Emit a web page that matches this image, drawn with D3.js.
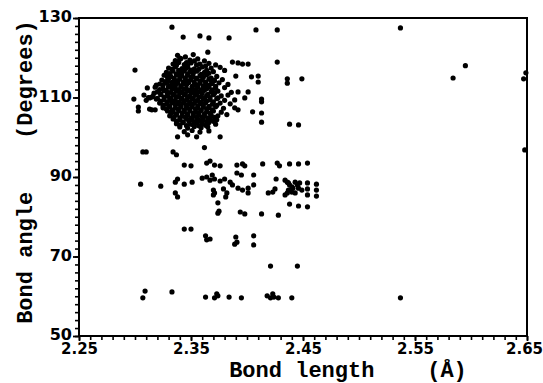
<!DOCTYPE html>
<html>
<head>
<meta charset="utf-8">
<script src="https://cdn.jsdelivr.net/npm/d3@7"></script>
<style>
  html, body { margin: 0; padding: 0; background: #fff; }
  svg { display: block; }
</style>
</head>
<body>
<svg id="chart" width="543" height="383"></svg>
<script>
// ---------------- DATA (bond length in Å, bond angle in degrees) ----------------
const xTicks = [2.25, 2.35, 2.45, 2.55, 2.65];
const xTickLabels = ["2.25", "2.35", "2.45", "2.55", "2.65"];
const yTicks = [50, 70, 90, 110, 130];
const yTickLabels = ["50", "70", "90", "110", "130"];
const xTitle = "Bond length    (\u00C5)";
const yTitle = "Bond angle    (Degrees)";

// dense tetrahedral-angle cluster
const mainCluster = [
  [2.338,120.6],[2.345,120.2],[2.352,120.8],
  [2.336,119.3],[2.341,119.8],[2.349,119.4],[2.356,119.7],[2.362,119.2],
  [2.334,118.4],[2.339,118.8],[2.344,118.3],[2.350,118.7],[2.358,118.4],[2.366,118.6],[2.372,118.2],
  [2.330,117.4],[2.336,117.7],[2.342,117.3],[2.347,117.6],[2.353,117.2],[2.360,117.7],[2.368,117.4],[2.376,117.6],
  [2.328,116.3],[2.334,116.6],[2.339,116.2],[2.344,116.7],[2.349,116.4],[2.355,116.6],[2.362,116.3],[2.370,116.5],[2.380,116.8],
  [2.326,115.6],[2.332,115.3],[2.337,115.7],[2.342,115.4],[2.347,115.6],[2.352,115.2],[2.358,115.5],[2.364,115.7],[2.373,115.3],
  [2.324,114.4],[2.330,114.7],[2.335,114.3],[2.340,114.6],[2.345,114.2],[2.350,114.5],[2.355,114.8],[2.360,114.4],[2.366,114.6],[2.371,114.3],[2.378,114.5],
  [2.322,113.4],[2.327,113.7],[2.333,113.3],[2.338,113.6],[2.343,113.4],[2.348,113.8],[2.353,113.3],[2.358,113.6],[2.363,113.2],[2.369,113.5],[2.375,113.7],[2.383,113.3],
  [2.318,112.6],[2.325,112.3],[2.330,112.7],[2.336,112.4],[2.341,112.6],[2.346,112.2],[2.351,112.5],[2.356,112.7],[2.361,112.4],[2.366,112.6],[2.372,112.3],[2.380,112.5],
  [2.320,111.4],[2.326,111.7],[2.332,111.3],[2.337,111.6],[2.342,111.4],[2.347,111.7],[2.352,111.3],[2.357,111.5],[2.362,111.8],[2.368,111.4],[2.374,111.6],[2.386,111.3],
  [2.308,110.6],[2.316,110.3],[2.323,110.7],[2.329,110.4],[2.334,110.6],[2.339,110.3],[2.344,110.7],[2.349,110.4],[2.354,110.6],[2.359,110.2],[2.364,110.5],[2.370,110.7],[2.377,110.4],[2.383,110.6],
  [2.310,109.3],[2.319,109.6],[2.326,109.4],[2.331,109.7],[2.336,109.3],[2.341,109.6],[2.346,109.4],[2.351,109.7],[2.356,109.3],[2.361,109.6],[2.367,109.4],[2.373,109.7],[2.380,109.3],
  [2.322,108.6],[2.328,108.3],[2.333,108.7],[2.338,108.4],[2.343,108.6],[2.348,108.3],[2.353,108.6],[2.358,108.4],[2.363,108.7],[2.369,108.3],[2.376,108.6],[2.385,108.4],
  [2.325,107.4],[2.331,107.7],[2.336,107.3],[2.341,107.6],[2.346,107.4],[2.351,107.7],[2.356,107.3],[2.361,107.6],[2.366,107.4],[2.372,107.7],[2.379,107.3],
  [2.329,106.6],[2.334,106.3],[2.339,106.7],[2.344,106.4],[2.349,106.6],[2.354,106.3],[2.359,106.7],[2.364,106.4],[2.370,106.6],[2.377,106.3],
  [2.331,105.4],[2.337,105.7],[2.342,105.3],[2.347,105.6],[2.352,105.4],[2.357,105.7],[2.362,105.3],[2.368,105.6],[2.374,105.4],[2.382,105.7],
  [2.334,104.6],[2.340,104.3],[2.346,104.7],[2.351,104.4],[2.356,104.6],[2.361,104.3],[2.367,104.6],[2.373,104.4],
  [2.337,103.4],[2.343,103.7],[2.349,103.3],[2.355,103.6],[2.360,103.4],[2.366,103.7],[2.372,103.3],
  [2.340,102.6],[2.347,102.3],[2.353,102.7],[2.359,102.4],[2.365,102.6],
  [2.344,101.4],[2.351,101.7],[2.358,101.3],[2.366,101.6]
];

// overlapping points filling the core of the cluster
const clusterCore = [
  [2.339,119.1],[2.346,118.8],[2.353,119.2],
  [2.337,118.1],[2.347,117.9],[2.355,118.2],[2.363,117.9],
  [2.333,117.1],[2.339,116.8],[2.345,117.2],[2.350,116.9],[2.357,117.1],[2.364,116.8],
  [2.331,116.0],[2.337,115.8],[2.342,116.2],[2.347,115.9],[2.352,116.1],[2.359,115.8],[2.366,116.1],
  [2.329,115.1],[2.335,114.8],[2.340,115.2],[2.345,114.9],[2.350,115.1],[2.355,114.8],[2.361,115.1],[2.368,114.9],
  [2.327,114.0],[2.333,113.8],[2.338,114.2],[2.343,113.9],[2.348,114.1],[2.353,113.8],[2.358,114.1],[2.363,113.9],[2.368,114.2],
  [2.325,113.1],[2.330,112.8],[2.336,113.1],[2.341,112.9],[2.346,113.2],[2.351,112.8],[2.356,113.1],[2.361,112.9],[2.366,113.1],[2.372,112.8],
  [2.322,112.0],[2.328,111.8],[2.333,112.1],[2.339,111.9],[2.344,112.1],[2.349,111.8],[2.354,112.0],[2.359,111.9],[2.364,112.2],[2.369,111.9],
  [2.317,111.1],[2.323,110.9],[2.329,111.1],[2.335,110.8],[2.340,111.1],[2.345,110.9],[2.350,111.2],[2.355,110.9],[2.360,111.0],[2.365,110.8],[2.371,111.1],
  [2.312,110.0],[2.320,109.8],[2.326,110.1],[2.332,109.9],[2.337,110.1],[2.342,109.8],[2.347,110.0],[2.352,109.9],[2.357,110.1],[2.362,109.8],[2.367,110.0],[2.374,109.9],
  [2.323,109.1],[2.329,108.9],[2.334,109.1],[2.339,108.8],[2.344,109.0],[2.349,108.9],[2.354,109.1],[2.359,108.8],[2.364,109.1],[2.370,108.9],
  [2.325,108.0],[2.331,107.9],[2.336,108.1],[2.341,107.8],[2.346,108.0],[2.351,108.1],[2.356,107.9],[2.361,108.1],[2.366,107.8],[2.373,108.0],
  [2.328,107.1],[2.333,106.9],[2.339,107.1],[2.344,106.8],[2.349,107.0],[2.354,107.1],[2.359,106.9],[2.364,107.1],[2.369,106.9],
  [2.332,106.0],[2.337,105.9],[2.342,106.1],[2.347,105.8],[2.352,106.0],[2.357,106.1],[2.362,105.9],[2.367,106.0],
  [2.335,105.1],[2.340,104.9],[2.345,105.1],[2.350,104.8],[2.355,105.0],[2.360,105.1],[2.365,104.9],[2.371,105.0],
  [2.337,104.0],[2.343,103.9],[2.348,104.1],[2.353,103.9],[2.358,104.1],[2.364,103.9],[2.370,104.0],
  [2.340,103.0],[2.346,102.9],[2.352,103.1],[2.357,102.9],[2.363,103.0]
];

// scattered points around the main cluster
const clusterFringe = [
  [2.333,127.7],[2.343,125.2],[2.358,125.5],[2.366,125.0],[2.384,125.0],[2.408,127.0],[2.427,127.0],
  [2.365,121.4],[2.340,119.9],[2.387,118.9],[2.392,118.7],[2.396,118.4],[2.401,118.4],[2.427,118.9],
  [2.390,115.4],[2.404,115.2],[2.410,115.4],[2.410,113.9],[2.436,114.7],[2.436,113.6],[2.449,114.7],
  [2.392,111.4],[2.401,111.4],[2.413,109.6],[2.413,108.9],[2.389,109.4],[2.398,109.9],
  [2.405,106.4],[2.413,106.1],[2.413,103.8],[2.438,103.3],[2.446,103.1],[2.389,107.4],[2.392,106.9],
  [2.300,116.9],[2.299,109.6],[2.303,107.6],[2.303,106.6],[2.311,112.4],[2.315,110.1],[2.319,113.1],
  [2.329,113.9],[2.313,109.9],[2.313,107.1],[2.315,106.9],[2.318,106.9],
  [2.338,100.1],[2.347,100.6],[2.355,100.1],[2.376,100.1],[2.362,97.4],
  [2.307,96.3],[2.310,96.3],[2.334,96.3],[2.337,95.6]
];

// points near 90 degrees
const rightAngleBand = [
  [2.344,93.0],[2.350,92.8],[2.364,93.5],[2.367,94.0],[2.371,93.0],[2.376,92.8],[2.391,93.0],[2.396,93.3],
  [2.398,92.8],[2.414,93.3],[2.427,93.5],[2.429,92.8],[2.438,93.3],[2.446,93.3],[2.454,93.5],
  [2.305,88.2],[2.323,87.7],[2.336,88.7],[2.338,89.5],[2.344,88.2],[2.351,88.7],[2.360,89.7],[2.364,90.0],
  [2.369,90.5],[2.367,89.2],[2.371,89.5],[2.376,89.0],[2.380,89.5],[2.385,88.7],[2.391,91.0],[2.395,90.5],
  [2.387,88.0],[2.392,87.2],[2.396,86.7],[2.406,90.5],[2.406,88.0],[2.426,89.5],[2.419,86.0],[2.423,86.2],
  [2.425,87.0],[2.370,86.7],[2.371,86.0],[2.370,85.5],[2.379,87.0],[2.382,86.0],[2.381,85.0],[2.401,87.2],
  [2.401,86.0],[2.336,86.0],[2.338,85.0],[2.374,83.5],[2.375,81.4],[2.374,80.9],[2.394,81.2],[2.398,80.7],
  [2.413,80.7],[2.428,80.4],
  [2.434,89.2],[2.436,88.7],[2.437,88.5],[2.438,88.0],[2.440,87.5],[2.441,87.2],[2.437,86.7],[2.436,86.0],
  [2.434,85.5],[2.443,88.7],[2.445,88.0],[2.446,87.2],[2.447,88.5],[2.449,86.7],[2.454,88.5],[2.454,87.0],
  [2.454,85.5],[2.462,88.2],[2.462,86.7],[2.462,85.2],[2.438,83.2],[2.446,82.7],[2.454,82.5],[2.440,86.2],
  [2.443,86.0]
];

// lower angles
const lowAngles = [
  [2.344,76.9],[2.350,76.9],[2.363,75.2],[2.364,74.2],[2.367,74.4],[2.390,74.9],[2.391,73.6],[2.389,73.1],
  [2.406,75.2],[2.406,72.9],[2.421,67.6],[2.445,67.6],
  [2.309,61.3],[2.307,59.6],[2.333,61.1],[2.363,59.8],[2.371,59.6],[2.373,60.6],[2.374,60.1],[2.384,59.8],
  [2.395,59.6],[2.418,60.1],[2.421,59.6],[2.423,60.6],[2.424,59.8],[2.428,59.6],[2.440,59.6],[2.537,59.6]
];

// long-bond outliers
const longBonds = [
  [2.537,127.5],[2.595,118.0],[2.584,114.9],[2.649,116.2],[2.647,114.7],[2.648,96.8]
];

// ---------------- DRAWING ----------------
const svg = d3.select("#chart");
const margin = { left: 79, right: 16, top: 18, bottom: 47 };
const W = 543, H = 383;

const x = d3.scaleLinear().domain([2.25, 2.65]).range([margin.left, W - margin.right]);
const y = d3.scaleLinear().domain([50, 130]).range([H - margin.bottom, margin.top]);

const tickFont = "'DejaVu Sans', sans-serif";
const titleFont = "'Liberation Mono', 'Courier New', monospace";

// minor ticks
const xMinor = d3.range(225, 266).map(d => d / 100);
const yMinor = d3.range(50, 131, 2);

svg.append("g")
  .attr("transform", `translate(0,${y(50)})`)
  .call(d3.axisBottom(x).tickValues(xMinor).tickSize(4).tickFormat(""))
  .call(g => g.select(".domain").remove())
  .call(g => g.selectAll("line").attr("stroke", "#000").attr("stroke-width", 1.6));

svg.append("g")
  .attr("transform", `translate(${x(2.25)},0)`)
  .call(d3.axisLeft(y).tickValues(yMinor).tickSize(4).tickFormat(""))
  .call(g => g.select(".domain").remove())
  .call(g => g.selectAll("line").attr("stroke", "#000").attr("stroke-width", 1.6));

// major ticks + labels
svg.append("g")
  .attr("transform", `translate(0,${y(50)})`)
  .call(d3.axisBottom(x).tickValues(xTicks).tickSize(5).tickPadding(2)
        .tickFormat((d, i) => xTickLabels[i]))
  .call(g => g.select(".domain").remove())
  .call(g => g.selectAll("line").attr("stroke", "#000").attr("stroke-width", 1.8))
  .call(g => g.selectAll("text")
        .attr("fill", "#000")
        .attr("dx", (d, i) => i === xTicks.length - 1 ? "-0.2em" : 0)
        .style("font-family", tickFont)
        .style("font-weight", "bold")
        .style("font-size", "15px"));

svg.append("g")
  .attr("transform", `translate(${x(2.25)},0)`)
  .call(d3.axisLeft(y).tickValues(yTicks).tickSize(6).tickPadding(1)
        .tickFormat((d, i) => yTickLabels[i]))
  .call(g => g.select(".domain").remove())
  .call(g => g.selectAll("line").attr("stroke", "#000").attr("stroke-width", 1.8))
  .call(g => g.selectAll("text")
        .attr("fill", "#000")
        .attr("dy", "0.22em")
        .style("font-family", tickFont)
        .style("font-weight", "bold")
        .style("font-size", "16px"));

// frame
svg.append("rect")
  .attr("x", x(2.25)).attr("y", y(130))
  .attr("width", x(2.65) - x(2.25)).attr("height", y(50) - y(130))
  .attr("fill", "none").attr("stroke", "#000").attr("stroke-width", 2);

// points
const allPoints = [].concat(mainCluster, clusterCore, clusterFringe, rightAngleBand, lowAngles, longBonds);
svg.append("g")
  .selectAll("circle")
  .data(allPoints)
  .join("circle")
  .attr("cx", d => x(d[0]))
  .attr("cy", d => y(d[1]))
  .attr("r", 2.6)
  .attr("fill", "#000");

// axis titles
svg.append("text")
  .attr("x", 348).attr("y", 377)
  .attr("text-anchor", "middle")
  .style("white-space", "pre")
  .attr("xml:space", "preserve")
  .style("font-family", titleFont)
  .style("font-weight", "bold")
  .style("font-size", "22px")
  .attr("fill", "#000")
  .text(xTitle);

svg.append("text")
  .attr("transform", "translate(32,172) rotate(-90)")
  .attr("text-anchor", "middle")
  .style("white-space", "pre")
  .attr("xml:space", "preserve")
  .style("font-family", titleFont)
  .style("font-weight", "bold")
  .style("font-size", "22px")
  .attr("fill", "#000")
  .text(yTitle);
</script>
</body>
</html>
